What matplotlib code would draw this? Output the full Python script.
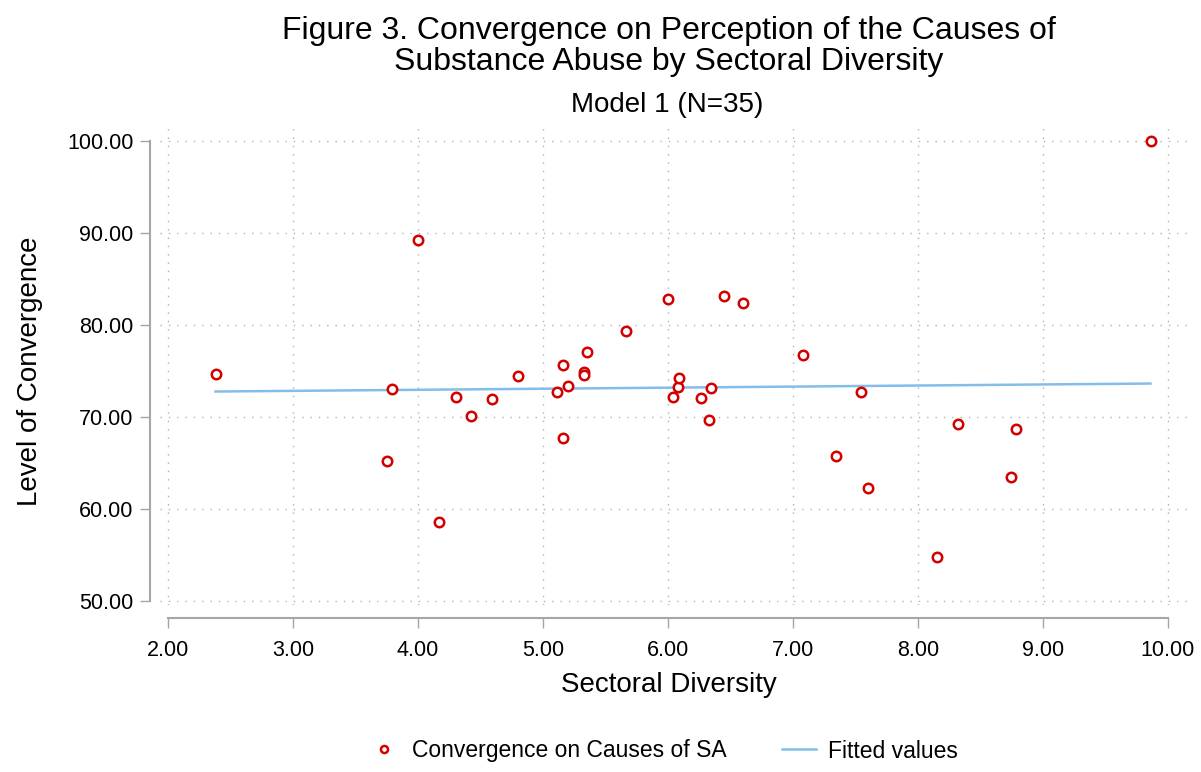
import numpy as np
import matplotlib
matplotlib.use("Agg")
import matplotlib.pyplot as plt

plt.rcParams['font.family'] = ['Liberation Sans', 'DejaVu Sans']

# Data
diversity = [2.38, 3.75, 3.79, 4.00, 4.17, 4.30, 4.42, 4.59, 4.80, 5.11,
             5.16, 5.16, 5.20, 5.33, 5.33, 5.35, 5.66, 6.00, 6.04, 6.08,
             6.09, 6.26, 6.33, 6.34, 6.45, 6.60, 7.08, 7.34, 7.54, 7.60,
             8.15, 8.32, 8.74, 8.78, 9.86]
convergence = [74.71, 65.18, 73.04, 89.21, 58.59, 72.14, 70.08, 71.92, 74.49, 72.75,
               75.65, 67.75, 73.33, 74.89, 74.57, 77.07, 79.35, 82.83, 72.20, 73.26,
               74.20, 72.10, 69.67, 73.20, 83.19, 82.36, 76.74, 65.76, 72.72, 62.25,
               54.82, 69.27, 63.48, 68.73, 100.00]
xticks = [2, 3, 4, 5, 6, 7, 8, 9, 10]
yticks = [50, 60, 70, 80, 90, 100]

x = np.array(diversity)
y = np.array(convergence)
slope, intercept = np.polyfit(x, y, 1)
xs = np.array([x.min(), x.max()])
fitted = intercept + slope * xs

W, H = 1201, 772
fig = plt.figure(figsize=(W / 100, H / 100), dpi=100)
ax = fig.add_axes([160 / W, (H - 605) / H, 1030 / W, 480 / H])

ax.plot(x, y, linestyle='none', marker='o', markersize=6.8, markerfacecolor='white',
        markeredgecolor='#d40000', markeredgewidth=1.8,
        label='Convergence on Causes of SA', zorder=3)
ax.plot(xs, fitted, color='#85bde9', linewidth=1.8, label='Fitted values', zorder=2)

ax.set_xlim(1.936, 10.176)
ax.set_ylim(49.57, 101.74)
ax.set_xticks(xticks)
ax.set_yticks(yticks)
ax.set_xticklabels([f"{v:.2f}" for v in xticks])
ax.set_yticklabels([f"{v:.2f}" for v in yticks])

ax.grid(True, linestyle=(0, (1, 5)), color='#b0b0b0', linewidth=1.0)
ax.set_axisbelow(True)

for s in ['top', 'right']:
    ax.spines[s].set_visible(False)
ax.spines['left'].set_position(('outward', 7.2))
ax.spines['bottom'].set_position(('outward', 9.4))
ax.spines['left'].set_bounds(50, 100)
ax.spines['bottom'].set_bounds(2, 10)
for s in ['left', 'bottom']:
    ax.spines[s].set_color('#a6a6a6')
    ax.spines[s].set_linewidth(1.5)
ax.tick_params(axis='both', colors='#a6a6a6', length=7, width=1.0,
               labelcolor='black', labelsize=15.5)
ax.tick_params(axis='y', pad=5)
ax.tick_params(axis='x', pad=9)

ax.set_xlabel('Sectoral Diversity', fontsize=20, va='center')
ax.xaxis.set_label_coords((669 - 160) / 1030, (605 - 685) / 480)
ax.set_ylabel('Level of Convergence', fontsize=20, va='center')
ax.yaxis.set_label_coords((30 - 160) / 1030, (605 - 371) / 480)

fig.text(669 / W, 1 - 39 / H, 'Figure 3. Convergence on Perception of the Causes of',
         ha='center', va='baseline', fontsize=23)
fig.text(669 / W, 1 - 70 / H, 'Substance Abuse by Sectoral Diversity',
         ha='center', va='baseline', fontsize=23)
fig.text(667 / W, 1 - 112 / H, 'Model 1 (N=35)', ha='center', va='baseline', fontsize=20)

leg = fig.legend(loc='center', bbox_to_anchor=(662 / W, 1 - 751 / H), ncol=2,
                 frameon=False, fontsize=16.5, columnspacing=2.4, handlelength=1.5,
                 handletextpad=0.5, markerscale=0.75)

fig.savefig('out.png', dpi=100)
